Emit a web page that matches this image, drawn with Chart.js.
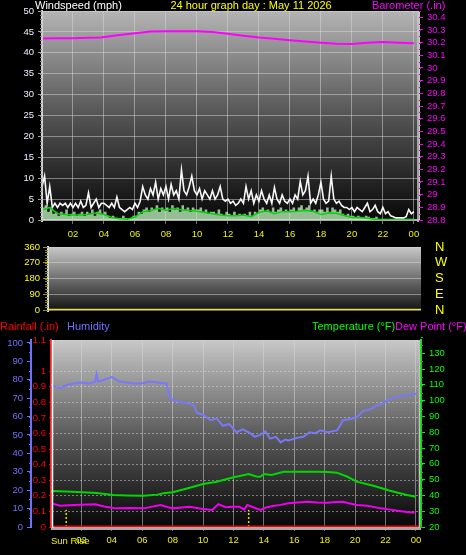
<!DOCTYPE html>
<html><head><meta charset="utf-8">
<script src="https://cdn.jsdelivr.net/npm/chart.js@4"></script>
<style>
html,body{margin:0;padding:0;background:#000;width:466px;height:555px;overflow:hidden}
canvas{position:absolute;left:0;top:0}
</style></head><body>
<canvas id="c1" width="466" height="555"></canvas>
<canvas id="c2" width="466" height="555"></canvas>
<canvas id="c3" width="466" height="555"></canvas>
<script>
// ---------- data ----------
const hourTicks=[2,4,6,8,10,12,14,16,18,20,22,24];
const hourLabels=['02','04','06','08','10','12','14','16','18','20','22','00'];
const windTicks=[0,5,10,15,20,25,30,35,40,45,50];
const baroTicks=[28.8,28.9,29,29.1,29.2,29.3,29.4,29.5,29.6,29.7,29.8,29.9,30,30.1,30.2,30.3,30.4];
const dirTicks=[0,90,180,270,360];
const dirLabels=['N','E','S','W','N'];
const humTicks=[0,10,20,30,40,50,60,70,80,90,100];
const rainTicks=[0,0.1,0.2,0.3,0.4,0.5,0.6,0.7,0.8,0.9,1,1.2];
const rainLabels=['0','0.1','0.2','0.3','0.4','0.5','0.6','0.7','0.8','0.9','1','1.1'];
const tempTicks=[20,30,40,50,60,70,80,90,100,110,120,130];

// wind gust, every 10 minutes from 00:00 (mph)
const gustWind=[8,10.5,4,8,3,4, 3,4,3.5,4,3,4, 3,4,3,4.5,3,3.5, 6.5,3,4,5,3,4,
 4,3.5,3,4,3,5.5, 3,2.5,2,2.5,3,2.5, 4,3,4.5,8,6,5, 7.5,6,9,5,7.5,6,
 8,5,8.5,6,7,5, 12,7,6,8,10.5,7, 6,7.5,5,7,6,5, 7,5,6,8,5,4.5,
 5,4,4.5,3.5,4,5, 4,8,5,7,4,6, 4.5,7,5,4,6,4, 7.8,5,4,6,4.5,4,
 5,4,6,5,9.2,6, 7,10.5,4,5,4,6, 9,5,4,4.5,10.5,5, 4,4.5,3.5,3,3,2.5,
 3,2,3,2.5,2,3, 4,2,2.5,3.5,2,1.5, 3,1.5,2,1,0.8,0.5, 0.5,0.5,0.5,0.8,2.5,1.5,2];
// wind speed, every 10 minutes
const paleWind=[3,3.5,2,3,1.5,2, 1,2,1.5,2.5,1,1.5, 2,1,1.5,2,1,2, 1.5,2.5,1,2,2.5,1.5,
 2,1,0.5,1,0.5,0.5, 0.5,1,0.5,0.3,0.5,1, 1,2,1.5,2.5,3,2, 3,2.5,3.5,2,3,2.5,
 3,2,3.5,2.5,3,2, 3.5,2.5,3,2,3,2.5, 2.5,3,2,2.5,1.5,2, 2,1.5,2.5,1.5,1,2,
 1.5,1,2,1,1.5,1, 1.5,1,2,1,2,1.5, 2.5,3,2,2.5,2,3, 2,2.5,3,2,2.5,2,
 2.5,3,2,3,3.5,2.5, 3,3.5,2,2.5,2,2.5, 2.5,2,3,2,3,2.5, 2,2.5,1.5,1,1.5,1,
 1,0.5,1,0.5,0.5,1, 0.8,0.5,0.5,0.8,0.3,0.3, 0.3,0.3,0.3,0.3,0.3,0.3, 0.3,0.3,0.3,0.3,0.3,0.3,0.3];
// average wind speed, every 30 minutes
const avgWind=[2.4,3,1.5,1.3,1.2,1.2,1.4,1.7,1.3,0.6,0.3,0.2,0.7,2,2.2,2.8,2.3,2.8,2.4,2.3,2.1,1.8,1.5,1.2,1,1,1.2,0.8,1.8,2.2,1.5,2,2,2.1,2.3,2.1,1.3,1.7,1.6,1.1,0.6,0.6,0.4,0.2,0,0,0,0,0];

const baroHours=[0,1,2,3,3.8,5,6,7,8,9,10,11,12,13,14,15,16,17,18,19,20,21,22,23,24];
const baroVals=[30.232,30.235,30.235,30.238,30.24,30.26,30.275,30.288,30.29,30.29,30.29,30.285,30.27,30.255,30.24,30.23,30.22,30.21,30.2,30.192,30.19,30.2,30.205,30.2,30.195];

const dirHours=[0,24.33];
const dirVals=[0,0];

const humHours=[0,0.3,0.6,1.0,1.5,2.0,2.5,2.9,3.0,3.1,3.5,4.0,4.5,5.0,5.5,5.9,6.5,7.0,7.6,7.8,8.0,8.5,9.1,9.4,9.6,10.0,10.5,10.9,11.3,11.7,12.2,12.6,13.1,13.4,13.75,14.1,14.4,14.8,15.1,15.4,15.6,16.2,16.6,17.0,17.4,17.7,18.2,18.8,19.0,19.2,19.6,20.1,20.5,21.0,21.4,21.8,22.1,22.5,22.8,23.1,23.4,23.7,23.9,24.0];
const humVals=[77,76,75.5,77,78,78.5,78,79,83,79,80,81.5,79,78.5,78,78,79,78.5,78,70.5,69,68,67,66,62,61,58,59,55,56,51.5,53,51,49,50,52,48,49,46,47.5,47,48.5,49,51.5,51,52.5,51.5,52.5,55,58,58.5,59.5,63,64,66,67,69,70,71,71.5,71.5,72,72.5,72];

const tempHours=[0,1,2.1,3,4.1,5,6.1,7,7.4,8,9,10,10.9,12,12.5,13,13.5,13.75,14,14.5,15.3,16,16.9,17.5,18.2,18.8,19.5,20.1,21.2,22.3,23.4,24];
const tempVals=[42.8,42.5,42,41.5,40.3,40,39.8,40.5,41.3,42,44.5,47.2,48.7,51.5,52.5,53.5,52,51.8,53.5,53,55,55,55,55,54.8,54.4,51.8,48.7,46.1,43,40.3,39.2];

const dewHours=[0,0.6,1.5,2.9,3.5,4.3,5.2,6.1,7.2,8,9.1,10,10.6,11,11.5,12,12.4,12.7,12.9,13.3,13.75,14.2,14.6,15.1,15.6,16.2,16.9,17.5,18.2,18.7,19.2,19.6,20.1,20.8,21.7,22.3,22.8,23.4,23.9];
const dewVals=[35,33.5,34,34.4,33,31.8,32,31.8,33.9,31.8,32.8,31.4,30.8,34.4,32.5,32.8,32.8,31,33.9,32.5,30.8,32.5,33.3,34,35,35.5,36,35.5,35.4,35.8,36,35,33.9,33.5,31.8,31,30.3,29.5,29];

const rainHours=[0,24.33];
const rainVals=[0,0];

const markerHours=[1.0,13.0];   // sun rise / sun set markers
const markerHeight=0.11;

// ---------- helpers ----------
const FONT='"Liberation Sans", Arial, sans-serif';
Chart.defaults.font.family=FONT;
Chart.defaults.font.size=9.5;
Chart.defaults.animation=false;

const pts=(xs,ys)=>xs.map((x,i)=>({x:x,y:ys[i]}));
const evenPts=(ys,step)=>ys.map((y,i)=>({x:i*step,y:y}));
const setTicks=arr=>s=>{s.ticks=arr.map(v=>({value:v}));};
const fixW=w=>s=>{s.width=w;};
const fixH=h=>s=>{s.height=h;};
const gridStyle={color:'rgba(215,215,215,0.5)',lineWidth:1,borderDash:[1,2]};

const bgPlugin={id:'bg',beforeDraw(chart,args,o){
  const {ctx,chartArea:a}=chart;
  const g=ctx.createLinearGradient(0,a.top,0,a.bottom);
  g.addColorStop(0,o.top);g.addColorStop(0.5,o.mid);g.addColorStop(1,o.bottom);
  ctx.save();ctx.fillStyle=g;ctx.fillRect(a.left,a.top,a.right-a.left,a.bottom-a.top);ctx.restore();
}};
const framePlugin={id:'frame',afterDatasetsDraw(chart,args,o){
  const {ctx,chartArea:a}=chart;ctx.save();
  (o.lines||[]).forEach(l=>{
    ctx.strokeStyle=l.c;ctx.lineWidth=l.w;ctx.beginPath();
    if(l.side==='left'){ctx.moveTo(a.left+l.off,a.top);ctx.lineTo(a.left+l.off,a.bottom+l.ext);}
    if(l.side==='right'){ctx.moveTo(a.right+l.off,a.top);ctx.lineTo(a.right+l.off,a.bottom+l.ext);}
    if(l.side==='bottom'){ctx.moveTo(a.left,a.bottom+l.off);ctx.lineTo(a.right,a.bottom+l.off);}
    ctx.stroke();
  });ctx.restore();
}};
// small secondary tick marks along a vertical scale
const minorPlugin={id:'minor',afterDraw(chart,args,o){
  const ctx=chart.ctx;ctx.save();ctx.lineWidth=1;
  (o.list||[]).forEach(m=>{
    const s=chart.scales[m.id];ctx.strokeStyle=m.c;ctx.beginPath();
    const n=Math.round((s.max-s.min)/m.step);
    for(let k=0;k<=n;k++){
      const y=Math.round(s.getPixelForValue(s.min+k*m.step))+0.5;
      const x0=m.side==='left'?s.right:s.left;
      ctx.moveTo(x0,y);ctx.lineTo(m.side==='left'?x0-m.len:x0+m.len,y);
    }
    ctx.stroke();
  });ctx.restore();
}};
const textPlugin={id:'texts',afterDraw(chart,args,o){
  const ctx=chart.ctx;ctx.save();ctx.textBaseline='middle';
  (o.items||[]).forEach(t=>{ctx.font=(t.size||11)+'px '+FONT;ctx.fillStyle=t.c;ctx.textAlign=t.align||'left';ctx.fillText(t.t,t.x,t.y);});
  ctx.restore();
}};

const xHours=(h,pad)=>({type:'linear',min:0,max:24.33,
  afterBuildTicks:setTicks(hourTicks),afterFit:fixH(h),
  ticks:{color:'#f0f000',padding:pad,autoSkip:false,maxRotation:0,font:{size:9.5},callback:(v,i)=>hourLabels[i]},
  grid:Object.assign({},gridStyle,{tickLength:4,tickColor:'#707070',tickBorderDash:[]}),
  border:{color:'#a8a8a8',width:2}});

// ---------- panel 1 : wind + barometer ----------
new Chart(document.getElementById('c1'),{type:'line',
  data:{datasets:[
    {data:pts(baroHours,baroVals),yAxisID:'baro',borderColor:'#ff00ff',borderWidth:2,pointRadius:0,order:0},
    {data:evenPts(avgWind,0.5),yAxisID:'y',borderColor:'#00d800',borderWidth:1.5,pointRadius:0,order:1},
    {data:evenPts(paleWind,1/6),yAxisID:'y',borderColor:'rgba(195,242,195,0.85)',backgroundColor:'rgba(190,240,190,0.78)',borderWidth:0,fill:'origin',stepped:true,pointRadius:0,order:2},
    {data:evenPts(gustWind,1/6),yAxisID:'y',borderColor:'#f8f8f8',borderWidth:1.6,pointRadius:0,order:3}
  ]},
  options:{responsive:false,devicePixelRatio:1,
    layout:{padding:{left:0,right:0,top:11,bottom:315}},
    plugins:{legend:{display:false},tooltip:{enabled:false},
      bg:{top:'#b4b4b4',mid:'#545454',bottom:'#080808'},
      frame:{lines:[{side:'left',off:0,c:'#d0d0d0',w:2,ext:2},{side:'right',off:-1,c:'#c8c8c8',w:1.5,ext:2}]},
      minor:{list:[{id:'y',step:1,len:2,c:'#8a8a8a',side:'left'},{id:'baro',step:0.05,len:2,c:'#d000d0',side:'right'}]},
      texts:{items:[
        {t:'Windspeed (mph)',x:35,y:6,c:'#ffffff',size:11},
        {t:'24 hour graph day : May 11 2026',x:251,y:6,c:'#ffff00',size:11,align:'center'},
        {t:'Barometer (.in)',x:372,y:6,c:'#ff00ff',size:11}
      ]}},
    scales:{
      x:xHours(20,5),
      y:{type:'linear',position:'left',min:0,max:50,afterBuildTicks:setTicks(windTicks),afterFit:fixW(42),
        ticks:{color:'#f0f0ff',padding:4,autoSkip:false,callback:v=>String(v)},
        grid:Object.assign({},gridStyle,{tickLength:4,tickColor:'#a0a0a0',tickBorderDash:[]}),
        border:{color:'#d0d0d0',width:2}},
      baro:{type:'linear',position:'right',min:28.8,max:30.45,afterBuildTicks:setTicks(baroTicks),afterFit:fixW(47),
        ticks:{color:'#ff00ff',padding:4,autoSkip:false,callback:v=>String(+v.toFixed(1))},
        grid:{drawOnChartArea:false,tickLength:4,tickColor:'#ff00ff'},
        border:{color:'#c8c8c8',width:1}}
    }},
  plugins:[bgPlugin,framePlugin,minorPlugin,textPlugin]});

// ---------- panel 2 : wind direction ----------
new Chart(document.getElementById('c2'),{type:'line',
  data:{datasets:[
    {data:pts(dirHours,dirVals),yAxisID:'y',borderColor:'#e8e020',borderWidth:2.5,pointRadius:0}
  ]},
  options:{responsive:false,devicePixelRatio:1,
    layout:{padding:{left:0,right:0,top:247,bottom:245}},
    plugins:{legend:{display:false},tooltip:{enabled:false},
      bg:{top:'#c8c8c8',mid:'#707070',bottom:'#141414'},
      frame:{lines:[{side:'left',off:0,c:'#d8d8d8',w:2,ext:2}]},
      minor:{list:[{id:'y',step:15,len:3,c:'#909000',side:'left'}]}},
    scales:{
      x:{type:'linear',min:0,max:24.33,display:false},
      y:{type:'linear',position:'left',min:0,max:360,afterBuildTicks:setTicks(dirTicks),afterFit:fixW(48),
        ticks:{color:'#ffff00',padding:3,autoSkip:false,callback:v=>String(v)},
        grid:Object.assign({},gridStyle,{tickLength:5,tickColor:'#a0a000',tickBorderDash:[],lineWidth:1}),
        border:{color:'#d8d8d8',width:2}},
      dir:{type:'linear',position:'right',min:0,max:360,afterBuildTicks:setTicks(dirTicks),afterFit:fixW(45),
        ticks:{color:'#ffff00',padding:14,autoSkip:false,font:{size:13},callback:(v,i)=>dirLabels[i]},
        grid:{display:false,drawOnChartArea:false,tickLength:0},border:{display:false}}
    }},
  plugins:[bgPlugin,framePlugin,minorPlugin]});

// ---------- panel 3 : rain, humidity, temperature, dew point ----------
new Chart(document.getElementById('c3'),{type:'line',
  data:{datasets:[
    {data:pts(rainHours,rainVals),yAxisID:'rain',borderColor:'#ff0000',borderWidth:3,pointRadius:0,order:0},
    {data:pts(dewHours,dewVals),yAxisID:'temp',borderColor:'#ee00ee',borderWidth:2,pointRadius:0,order:1},
    {data:pts(tempHours,tempVals),yAxisID:'temp',borderColor:'#00d800',borderWidth:2,pointRadius:0,order:2},
    {data:pts(humHours,humVals),yAxisID:'hum',borderColor:'#7878f8',borderWidth:2,pointRadius:0,order:3},
    {data:[{x:markerHours[0],y:0},{x:markerHours[0],y:markerHeight}],yAxisID:'rain',borderColor:'#e0e000',borderWidth:1.5,borderDash:[2,2],pointRadius:0,order:4},
    {data:[{x:markerHours[1],y:0},{x:markerHours[1],y:markerHeight}],yAxisID:'rain',borderColor:'#e0e000',borderWidth:1.5,borderDash:[2,2],pointRadius:0,order:4}
  ]},
  options:{responsive:false,devicePixelRatio:1,
    layout:{padding:{left:0,right:0,top:340,bottom:8}},
    plugins:{legend:{display:false},tooltip:{enabled:false},
      bg:{top:'#c8c8c8',mid:'#5c5c5c',bottom:'#060606'},
      frame:{lines:[{side:'left',off:1.5,c:'#ffffff',w:1.5,ext:2},{side:'right',off:-1.5,c:'#c0c0c0',w:1.5,ext:2},{side:'bottom',off:2,c:'#a8a8a8',w:2}]},
      minor:{list:[{id:'hum',step:5,len:2,c:'#7070ff',side:'left'},{id:'temp',step:5,len:2,c:'#00d000',side:'right'}]},
      texts:{items:[
        {t:'Rainfall (.in)',x:0,y:327,c:'#ff0000',size:11},
        {t:'Humidity',x:67,y:327,c:'#7070ff',size:11},
        {t:'Temperature (°F)',x:312,y:327,c:'#00ff00',size:11},
        {t:'Dew Point (°F)',x:395,y:327,c:'#ff00ff',size:11},
        {t:'Sun Rise',x:51,y:541,c:'#f0f000',size:9.5}
      ]}},
    scales:{
      x:xHours(20,4),
      hum:{type:'linear',position:'left',weight:1,min:0,max:101.6,afterBuildTicks:setTicks(humTicks),afterFit:fixW(31),
        ticks:{color:'#7070ff',padding:4,autoSkip:false,callback:v=>String(v)},
        grid:{drawOnChartArea:false,tickLength:4,tickColor:'#7070ff'},
        border:{color:'#7070ff',width:2}},
      rain:{type:'linear',position:'left',weight:0,min:0,max:1.2,afterBuildTicks:setTicks(rainTicks),afterFit:fixW(20),
        ticks:{color:'#ff0000',padding:3,autoSkip:false,callback:(v,i)=>rainLabels[i]},
        grid:Object.assign({},gridStyle,{tickLength:2,tickColor:'#ff0000',tickBorderDash:[]}),
        border:{color:'#ff2020',width:2,dash:[2,2]}},
      temp:{type:'linear',position:'right',min:20,max:138.4,afterBuildTicks:setTicks(tempTicks),afterFit:fixW(45),
        ticks:{color:'#00ff00',padding:4,autoSkip:false,callback:v=>String(v)},
        grid:{drawOnChartArea:false,tickLength:4,tickColor:'#00ff00'},
        border:{color:'#00e000',width:2,dash:[2,2]}}
    }},
  plugins:[bgPlugin,framePlugin,minorPlugin,textPlugin]});
</script>
</body></html>
